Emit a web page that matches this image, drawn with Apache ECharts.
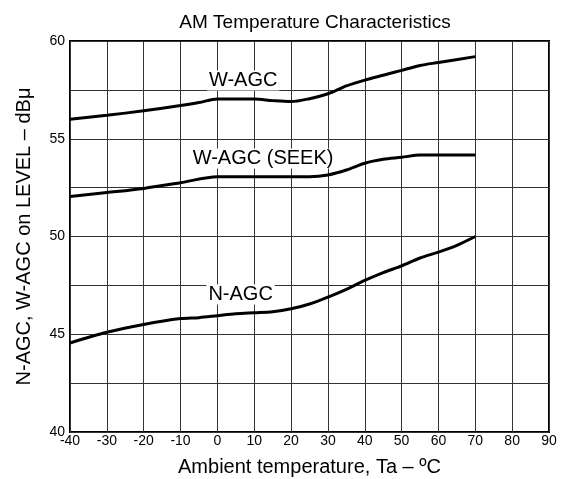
<!DOCTYPE html>
<html>
<head>
<meta charset="utf-8">
<script src="https://cdn.jsdelivr.net/npm/echarts@6/dist/echarts.min.js"></script>
<style>
  html, body { margin: 0; padding: 0; background: #fff; }
  #main { width: 562px; height: 479px; }
</style>
</head>
<body>
<div id="main"></div>
<script>
    // temperature (°C) and levels
    var wagcTemp = [-40, -30, -20, -10, -5, 0, 10, 15, 20, 25, 30, 35, 40, 45, 50, 55, 60, 70];
    var wagc = [56.0, 56.2, 56.43, 56.7, 56.85, 57.03, 57.03, 56.95, 56.9, 57.05, 57.3, 57.7, 58.0, 58.25, 58.5, 58.75, 58.9, 59.2];

    var seekTemp = [-40, -30, -20, -10, 0, 10, 20, 25, 30, 35, 40, 45, 50, 55, 60, 70];
    var wagcSeek = [52.05, 52.25, 52.46, 52.75, 53.06, 53.06, 53.06, 53.06, 53.15, 53.4, 53.75, 53.95, 54.05, 54.17, 54.17, 54.17];

    var nagcTemp = [-40, -30, -20, -10, -5, 0, 5, 10, 15, 20, 25, 30, 35, 40, 45, 50, 55, 60, 65, 70];
    var nagc = [44.55, 45.1, 45.5, 45.8, 45.85, 45.95, 46.05, 46.1, 46.15, 46.3, 46.55, 46.9, 47.3, 47.75, 48.15, 48.5, 48.9, 49.2, 49.55, 50.0];

    var seriesNames = ['W-AGC', 'W-AGC (SEEK)', 'N-AGC'];
    // where each curve's name sits [temp, level]
    var labelAt = [[7.0, 57.98], [12.4, 53.99], [6.3, 47.03]];

    function pairs(xs, ys) {
        return xs.map(function (x, i) { return [x, ys[i]]; });
    }

    function curve(name, data, lab) {
        return {
            name: name,
            type: 'line',
            data: data,
            smooth: 0.3,
            symbol: 'none',
            lineStyle: { color: '#000', width: 3 },
            markPoint: {
                symbol: 'rect',
                symbolSize: 0,
                silent: true,
                data: [{ coord: lab }],
                label: {
                    show: true,
                    position: 'inside',
                    formatter: name,
                    color: '#000',
                    fontSize: 20,
                    fontFamily: 'Liberation Sans',
                    backgroundColor: '#fff',
                    padding: [0, 2]
                }
            }
        };
    }

    var myChart = echarts.init(document.getElementById('main'));
    var option = {
        animation: false,
        title: {
            text: 'AM Temperature Characteristics',
            left: 310,
            textAlign: 'center',
            top: 8,
            textStyle: { fontFamily: 'Liberation Sans', fontSize: 19, fontWeight: 'normal', color: '#000' }
        },
        grid: {
            left: 70, right: 13, top: 41, bottom: 47,
            outerBoundsMode: 'none',
            show: true, borderColor: '#000', borderWidth: 2
        },
        xAxis: {
            type: 'value',
            min: -40,
            max: 90,
            interval: 10,
            name: 'Ambient temperature, Ta – ºC',
            nameLocation: 'middle',
            nameGap: 25,
            nameTextStyle: { fontFamily: 'Liberation Sans', fontSize: 20, color: '#000' },
            axisLine: { show: false },
            axisTick: { show: false },
            axisLabel: { margin: 2, fontFamily: 'Liberation Sans', fontSize: 14, color: '#000' },
            splitLine: { show: true, lineStyle: { color: '#333', width: 1 } }
        },
        yAxis: {
            type: 'value',
            min: 40,
            max: 60,
            interval: 2.5,
            name: 'N-AGC, W-AGC on LEVEL – dBμ',
            nameLocation: 'middle',
            nameGap: 36,
            nameTextStyle: { fontFamily: 'Liberation Sans', fontSize: 20, color: '#000' },
            axisLine: { show: false },
            axisTick: { show: false },
            axisLabel: {
                margin: 5,
                fontFamily: 'Liberation Sans',
                fontSize: 14,
                color: '#000',
                formatter: function (v) { return v % 5 === 0 ? v : ''; }
            },
            splitLine: { show: true, lineStyle: { color: '#333', width: 1 } }
        },
        series: [
            curve(seriesNames[0], pairs(wagcTemp, wagc), labelAt[0]),
            curve(seriesNames[1], pairs(seekTemp, wagcSeek), labelAt[1]),
            curve(seriesNames[2], pairs(nagcTemp, nagc), labelAt[2])
        ]
    };
    myChart.setOption(option);
</script>
</body>
</html>
